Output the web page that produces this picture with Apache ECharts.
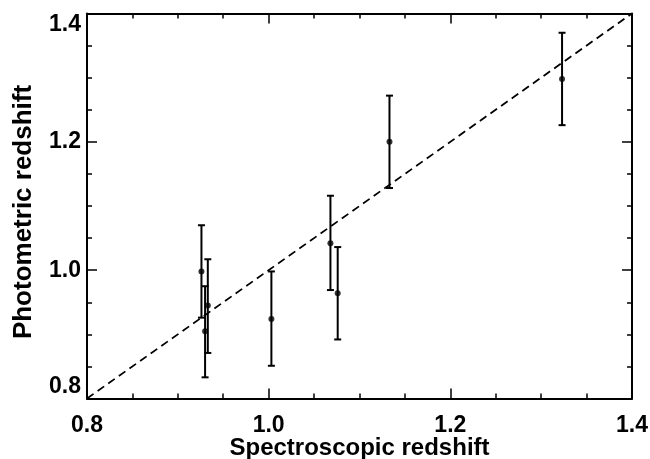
<!DOCTYPE html>
<html>
<head>
<meta charset="utf-8">
<script src="https://cdn.jsdelivr.net/npm/echarts@6/dist/echarts.min.js"></script>
<style>
html,body{margin:0;padding:0;background:#fff;}
#chart{width:650px;height:459px;}
</style>
</head>
<body>
<div id="chart"></div>
<script>
// Spectroscopic redshift (x), photometric redshift (y) and error-bar bounds
const specZ  = [0.926, 0.933, 0.930, 1.003, 1.068, 1.076, 1.133, 1.323];
const photZ  = [0.998, 0.945, 0.905, 0.924, 1.042, 0.964, 1.200, 1.298];
const photLo = [0.926, 0.871, 0.833, 0.851, 0.969, 0.892, 1.128, 1.226];
const photHi = [1.070, 1.017, 0.975, 0.998, 1.116, 1.036, 1.272, 1.370];
// one-to-one reference line endpoints
const refLine = [[0.8, 0.8], [1.4, 1.4]];
const tickLabels = ['0.8', '1.0', '1.2', '1.4'];

const FONT = '"Liberation Sans", Arial, Helvetica, sans-serif';

const points = specZ.map((x, i) => [x, photZ[i]]);
const bars = specZ.map((x, i) => [x, photLo[i], photHi[i]]);

function axisCommon(showLabel, extra) {
  return Object.assign({
    type: 'value', min: 0.8, max: 1.4, interval: 0.2,
    axisLine: { show: true, onZero: false, lineStyle: { color: '#000', width: 2 } },
    axisTick: { show: true, inside: true, length: 10, lineStyle: { color: '#000', width: 1.5 } },
    minorTick: { show: true, splitNumber: 4, length: 5, lineStyle: { color: '#000', width: 1.5 } },
    splitLine: { show: false },
    axisLabel: {
      show: showLabel, color: '#000', fontSize: 23, fontWeight: 'bold', fontFamily: FONT,
      formatter: v => tickLabels.find(t => Math.abs(parseFloat(t) - v) < 1e-6) || v.toFixed(1)
    }
  }, extra || {});
}

const chart = echarts.init(document.getElementById('chart'), null, { renderer: 'canvas' });
const xBottom = axisCommon(true, {
  position: 'bottom',
  name: 'Spectroscopic redshift', nameLocation: 'middle', nameGap: 38, nameMoveOverlap: false,
  nameTextStyle: { color: '#000', fontSize: 24, fontWeight: 'bold', fontFamily: FONT }
});
xBottom.axisLabel.margin = 16;
const yLeft = axisCommon(true, {
  position: 'left',
  name: 'Photometric redshift', nameLocation: 'middle', nameGap: 50, nameMoveOverlap: false,
  nameTextStyle: { color: '#000', fontSize: 26, fontWeight: 'bold', fontFamily: FONT, padding: [0, 12, 0, 0] }
});
yLeft.axisLabel.margin = 6;
yLeft.axisLabel.verticalAlignMaxLabel = 'top';
yLeft.axisLabel.verticalAlignMinLabel = 'bottom';

chart.setOption({
  animation: false,
  backgroundColor: '#fff',
  grid: { left: 87, right: 18, top: 13.5, bottom: 60.5, containLabel: false, outerBoundsMode: 'none' },
  xAxis: [xBottom, axisCommon(false, { position: 'top' })],
  yAxis: [yLeft, axisCommon(false, { position: 'right' })],
  series: [
    {
      type: 'line', data: refLine, showSymbol: false, symbol: 'none',
      lineStyle: { color: '#000', width: 1.8, type: [8, 5] }, silent: true, z: 1
    },
    {
      type: 'custom', data: bars, z: 2,
      renderItem: function (params, api) {
        const x = api.value(0);
        const lo = api.coord([x, api.value(1)]);
        const hi = api.coord([x, api.value(2)]);
        const w = 3.5;
        const style = { stroke: '#000', lineWidth: 2 };
        return {
          type: 'group',
          children: [
            { type: 'line', shape: { x1: lo[0], y1: lo[1], x2: hi[0], y2: hi[1] }, style: style },
            { type: 'line', shape: { x1: lo[0] - w, y1: lo[1], x2: lo[0] + w, y2: lo[1] }, style: style },
            { type: 'line', shape: { x1: hi[0] - w, y1: hi[1], x2: hi[0] + w, y2: hi[1] }, style: style }
          ]
        };
      }
    },
    {
      type: 'scatter', data: points, symbol: 'circle', symbolSize: 6,
      itemStyle: { color: '#000' }, z: 3
    }
  ]
});
</script>
</body>
</html>
